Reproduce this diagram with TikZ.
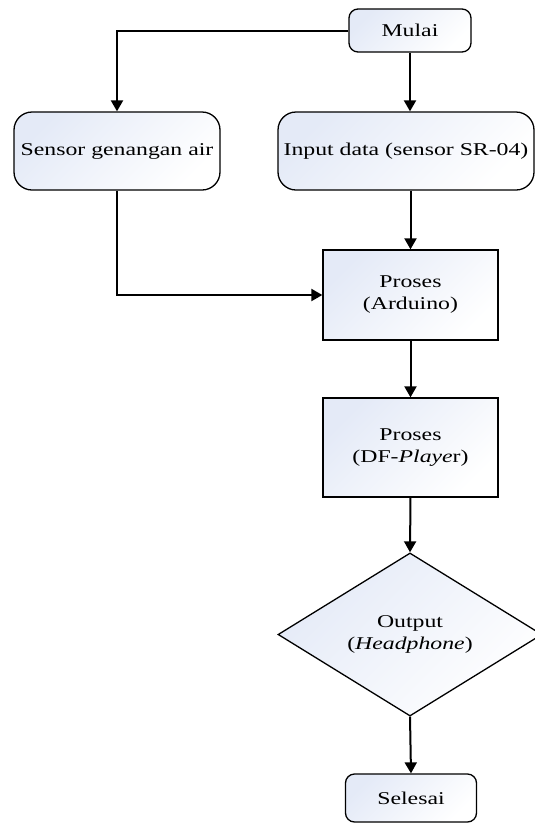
\documentclass[tikz,border=0pt]{standalone}
\usepackage{fontspec}
\setmainfont{Liberation Serif}[FakeStretch=1.32]
\usetikzlibrary{shapes.geometric,arrows.meta}
\definecolor{shadeblue}{RGB}{228,234,247}
\tikzset{
  base/.style={draw=black, line width=1.3pt, top color=shadeblue, bottom color=white, shading angle=45,
    align=center, font=\fontsize{18}{22}\selectfont, inner sep=2pt},
  termbox/.style={base, rounded corners=9pt},
  iobox/.style={base, rounded corners=18pt},
  procbox/.style={base},
  decbox/.style={base, diamond, inner sep=0pt},
  conn/.style={draw=black, line width=2pt, -{Triangle[length=11pt,width=12pt]}}
}
\begin{document}
\begin{tikzpicture}[x=1pt,y=-1pt]
\useasboundingbox (0,0) rectangle (535,823);
\node[termbox, minimum width=122pt, minimum height=43pt] (mulai) at (410,30.5) {Mulai};
\node[iobox, minimum width=206pt, minimum height=78pt] (sensor) at (117,151) {Sensor genangan air};
\node[iobox, minimum width=256pt, minimum height=78pt] (input) at (406,151) {Input data (sensor SR-04)};
\node[procbox, minimum width=175pt, minimum height=90pt] (arduino) at (410.5,295) {Proses\\(Arduino)};
\node[procbox, minimum width=175pt, minimum height=99pt] (df) at (410.5,447.5) {Proses\\(DF-\textit{Playe}r)};
\node[decbox, minimum width=264pt, minimum height=157pt] (out) at (410,634.5) {Output\\(\textit{Headphone})};
\node[termbox, minimum width=131pt, minimum height=48pt] (selesai) at (411,798) {Selesai};

\draw[conn] (mulai.south) -- (mulai.south |- input.north);
\draw[conn] (mulai.west) -| (sensor.north);
\draw[conn] (input.south -| arduino.north) -- (arduino.north);
\draw[conn] (sensor.south) |- (arduino.west);
\draw[conn] (arduino.south) -- (df.north);
\draw[conn] (df.south) -- (out.north);
\draw[conn] (out.south) -- (selesai.north);
\end{tikzpicture}
\end{document}
